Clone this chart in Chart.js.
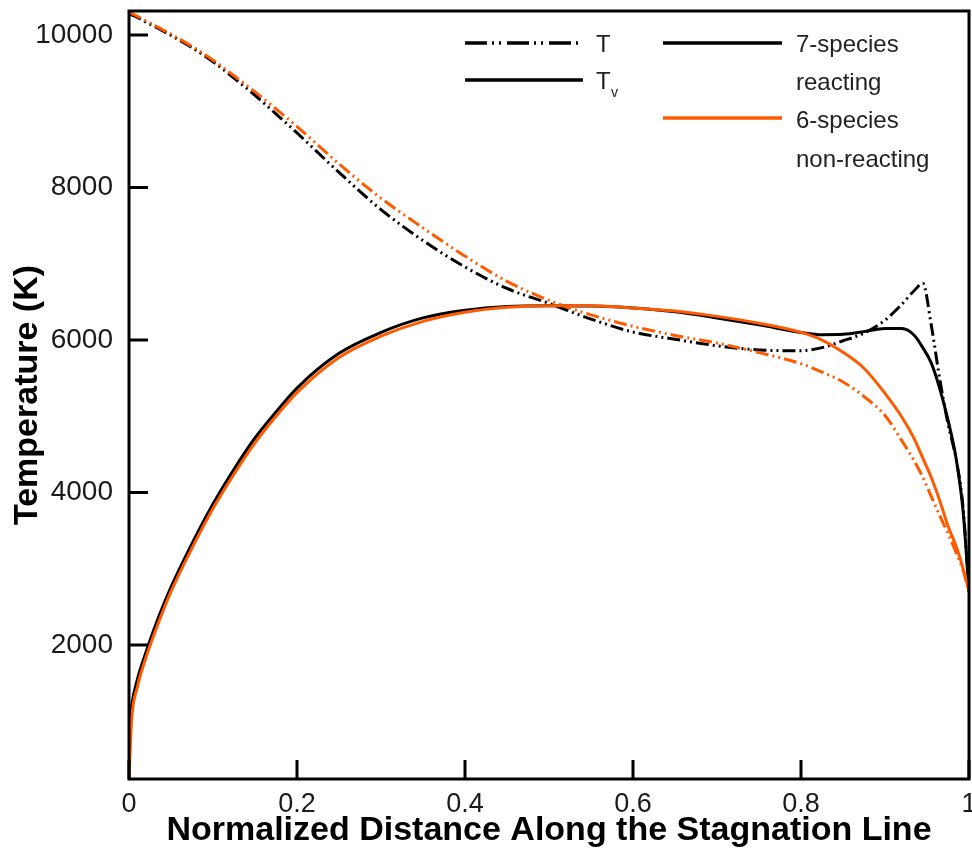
<!DOCTYPE html>
<html>
<head>
<meta charset="utf-8">
<script src="https://cdn.jsdelivr.net/npm/chart.js@4.4.1/dist/chart.umd.min.js"></script>
<style>
  html, body { margin: 0; padding: 0; background: #fff; }
  #wrap { width: 972px; height: 850px; }
</style>
</head>
<body>
<div id="wrap"><canvas id="c" width="972" height="850"></canvas></div>
<script>
// ---------- data ----------
const distance = [0, 0.003, 0.01, 0.02, 0.035, 0.05, 0.075, 0.1, 0.125, 0.15, 0.175, 0.2,
  0.25, 0.3, 0.35, 0.4, 0.45, 0.5, 0.55, 0.6, 0.65, 0.7, 0.75, 0.8, 0.825, 0.85, 0.875,
  0.9, 0.92, 0.935, 0.945, 0.955, 0.965, 0.975, 0.985, 0.993, 1.0];

// 7-species reacting
const T_reacting = [10280, 10265, 10230, 10170, 10085, 9995, 9835, 9650, 9435, 9210, 8965, 8716,
  8198, 7710, 7305, 6958, 6676, 6480, 6275, 6105, 6010, 5925, 5870, 5860, 5900, 5990, 6090,
  6260, 6470, 6650, 6745, 6200, 5500, 4900, 4420, 3800, 2700];
const Tv_reacting = [850, 1190, 1550, 1900, 2360, 2760, 3330, 3850, 4305, 4715, 5055, 5370,
  5825, 6100, 6290, 6390, 6440, 6450, 6445, 6420, 6370, 6290, 6200, 6100, 6070, 6075, 6110,
  6150, 6150, 6060, 5900, 5700, 5370, 4950, 4425, 3750, 2700];

// 6-species non-reacting
const T_nonreacting = [10300, 10285, 10245, 10185, 10100, 10010, 9850, 9670, 9465, 9255, 9030, 8800,
  8310, 7860, 7470, 7100, 6770, 6520, 6330, 6180, 6060, 5960, 5835, 5690, 5580, 5450, 5260,
  5010, 4680, 4410, 4200, 3950, 3700, 3460, 3205, 2980, 2720];
const Tv_nonreacting = [243, 1000, 1450, 1830, 2290, 2700, 3270, 3790, 4240, 4650, 5000, 5310,
  5770, 6050, 6245, 6365, 6430, 6450, 6450, 6420, 6380, 6310, 6220, 6100, 6000, 5840, 5630,
  5300, 4990, 4700, 4450, 4200, 3900, 3560, 3285, 3000, 2700];

const xTicks = [0, 0.2, 0.4, 0.6, 0.8, 1];
const yTicks = [2000, 4000, 6000, 8000, 10000];
const xRange = [0, 1];
const yRange = [243, 10315];

const xTitle = 'Normalized Distance Along the Stagnation Line';
const yTitle = 'Temperature (K)';
const legendTemp = ['T', 'T', 'v'];        // T, and T with subscript v
const legendModels = [['7-species', 'reacting'], ['6-species', 'non-reacting']];

// ---------- styles ----------
const BLACK = '#000000';
const ORANGE = '#ff5a00';
const DASH_DOT_DOT = [13, 4, 2, 4, 2, 4];
const FONT = '"Liberation Sans", Arial, Helvetica, sans-serif';

function pts(vals) { return distance.map((d, i) => ({ x: d, y: vals[i] })); }

const frameAndLegend = {
  id: 'frameAndLegend',
  afterDatasetsDraw(chart) {
    const { ctx, chartArea: { left, right, top, bottom }, scales: { x, y } } = chart;
    ctx.save();
    ctx.strokeStyle = BLACK;
    ctx.lineWidth = 3;
    ctx.setLineDash([]);
    ctx.strokeRect(left, top, right - left, bottom - top);
    ctx.beginPath();
    xTicks.forEach(v => { const p = x.getPixelForValue(v); ctx.moveTo(p, bottom); ctx.lineTo(p, bottom - 19); });
    yTicks.forEach(v => { const p = y.getPixelForValue(v); ctx.moveTo(left, p); ctx.lineTo(left + 19, p); });
    ctx.stroke();

    // legend
    ctx.lineWidth = 3.5;
    ctx.lineCap = 'butt';
    ctx.setLineDash([22, 5, 2, 5, 2, 6]);
    ctx.beginPath(); ctx.moveTo(465, 43); ctx.lineTo(583, 43); ctx.stroke();
    ctx.setLineDash([]);
    ctx.beginPath(); ctx.moveTo(465, 80); ctx.lineTo(583, 80); ctx.stroke();
    ctx.beginPath(); ctx.moveTo(663, 43); ctx.lineTo(782, 43); ctx.stroke();
    ctx.strokeStyle = ORANGE;
    ctx.beginPath(); ctx.moveTo(663, 118); ctx.lineTo(782, 118); ctx.stroke();

    ctx.fillStyle = '#222';
    ctx.textAlign = 'left';
    ctx.textBaseline = 'middle';
    ctx.font = '24px ' + FONT;
    ctx.fillText(legendTemp[0], 596, 45);
    ctx.fillText(legendTemp[1], 596, 82);
    ctx.font = '14px ' + FONT;
    ctx.fillText(legendTemp[2], 611, 93);
    ctx.font = '24px ' + FONT;
    ctx.fillText(legendModels[0][0], 796, 45);
    ctx.fillText(legendModels[0][1], 796, 83);
    ctx.fillText(legendModels[1][0], 796, 121);
    ctx.fillText(legendModels[1][1], 796, 160);
    ctx.restore();
  }
};

const common = { pointRadius: 0, borderWidth: 3, fill: false, cubicInterpolationMode: 'monotone' };

new Chart(document.getElementById('c'), {
  type: 'line',
  data: {
    datasets: [
      Object.assign({ label: '6-species non-reacting Tv', data: pts(Tv_nonreacting), borderColor: ORANGE }, common),
      Object.assign({ label: '6-species non-reacting T', data: pts(T_nonreacting), borderColor: ORANGE, borderDash: DASH_DOT_DOT }, common),
      Object.assign({ label: '7-species reacting Tv', data: pts(Tv_reacting), borderColor: BLACK }, common),
      Object.assign({ label: '7-species reacting T', data: pts(T_reacting), borderColor: BLACK, borderDash: DASH_DOT_DOT }, common)
    ]
  },
  options: {
    responsive: false,
    animation: false,
    devicePixelRatio: 1,
    layout: { padding: { top: 11, right: 3, left: 0, bottom: 0 } },
    plugins: { legend: { display: false }, tooltip: { enabled: false } },
    scales: {
      x: {
        type: 'linear', min: xRange[0], max: xRange[1],
        afterBuildTicks: s => { s.ticks = xTicks.map(v => ({ value: v })); },
        afterFit: s => { s.height = 71; s.paddingLeft = 0; s.paddingRight = 0; },
        grid: { display: false, drawTicks: false },
        border: { display: false },
        ticks: { color: '#1a1a1a', padding: 9, maxRotation: 0, autoSkip: false,
                 font: { family: FONT, size: 27 }, callback: v => String(v) },
        title: { display: true, text: xTitle, color: '#000', padding: { top: 0, bottom: -1 },
                 font: { family: FONT, size: 34, weight: 'bold' } }
      },
      y: {
        type: 'linear', min: yRange[0], max: yRange[1],
        afterBuildTicks: s => { s.ticks = yTicks.map(v => ({ value: v })); },
        afterFit: s => { s.width = 129; s.paddingTop = 0; s.paddingBottom = 0; },
        grid: { display: false, drawTicks: false },
        border: { display: false },
        ticks: { color: '#1a1a1a', padding: 16, autoSkip: false,
                 font: { family: FONT, size: 28 }, callback: v => String(v) },
        title: { display: true, text: yTitle, color: '#000', padding: { top: 7, bottom: 0 },
                 font: { family: FONT, size: 34, weight: 'bold' } }
      }
    }
  },
  plugins: [frameAndLegend]
});
</script>
</body>
</html>
